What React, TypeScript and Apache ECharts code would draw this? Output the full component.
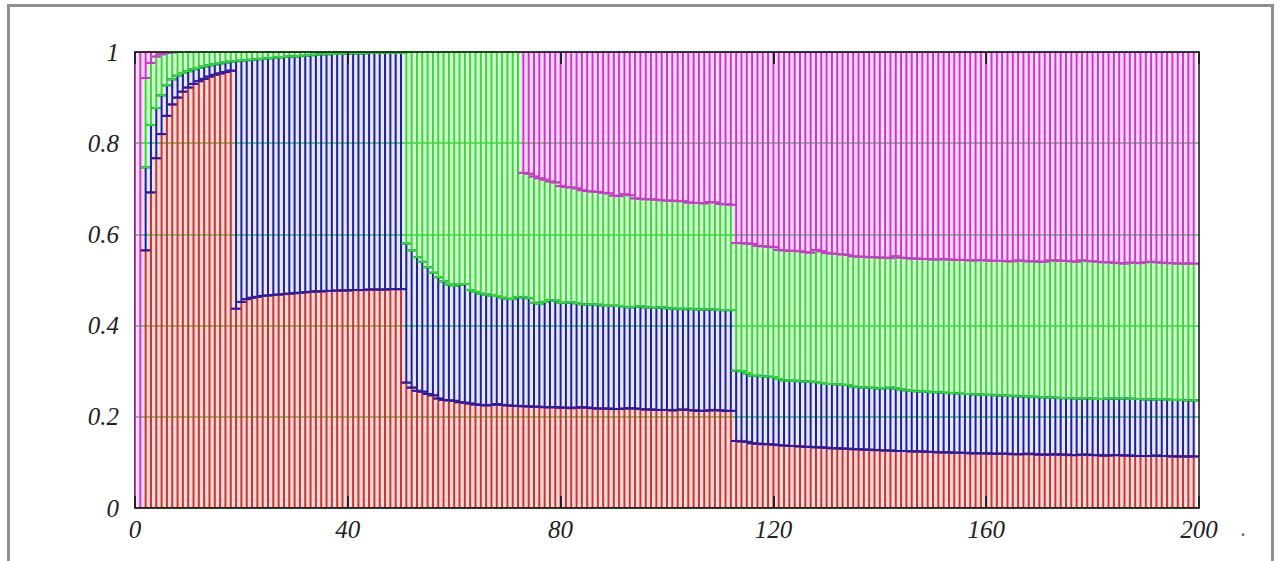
import React, { useEffect, useRef } from "react";
import * as echarts from "echarts";

// time steps 0..199
const steps: number[] = Array.from({ length: 200 }, (_, i) => i);

// cumulative boundary: top of red
const redTop: number[] = [
  0, 0, 0.565, 0.692, 0.767, 0.82, 0.86, 0.885, 0.9, 0.913,
  0.922, 0.93, 0.936, 0.941, 0.946, 0.95, 0.953, 0.956, 0.959, 0.437,
  0.452, 0.458, 0.461, 0.463, 0.465, 0.466, 0.467, 0.468, 0.469, 0.47,
  0.471, 0.472, 0.473, 0.474, 0.475, 0.475, 0.476, 0.476, 0.477, 0.477,
  0.477, 0.478, 0.478, 0.478, 0.479, 0.479, 0.479, 0.479, 0.48, 0.48,
  0.48, 0.275, 0.264, 0.257, 0.255, 0.25, 0.247, 0.24, 0.237, 0.236,
  0.235, 0.232, 0.231, 0.229, 0.227, 0.226, 0.225, 0.226, 0.228, 0.226,
  0.225, 0.224, 0.224, 0.223, 0.223, 0.222, 0.222, 0.221, 0.221, 0.221,
  0.22, 0.22, 0.219, 0.22, 0.221, 0.22, 0.219, 0.218, 0.218, 0.218,
  0.217, 0.217, 0.218, 0.219, 0.218, 0.217, 0.216, 0.216, 0.215, 0.215,
  0.215, 0.214, 0.215, 0.216, 0.215, 0.214, 0.213, 0.213, 0.214, 0.215,
  0.214, 0.213, 0.213, 0.147, 0.146, 0.145, 0.142, 0.141, 0.14, 0.14,
  0.139, 0.138, 0.137, 0.136, 0.136, 0.135, 0.134, 0.134, 0.133, 0.133,
  0.132, 0.131, 0.131, 0.13, 0.13, 0.129, 0.129, 0.128, 0.128, 0.127,
  0.127, 0.126, 0.126, 0.125, 0.125, 0.125, 0.124, 0.124, 0.124, 0.123,
  0.123, 0.122, 0.122, 0.122, 0.121, 0.121, 0.121, 0.12, 0.12, 0.12,
  0.12, 0.119, 0.119, 0.119, 0.119, 0.118, 0.118, 0.118, 0.119, 0.118,
  0.117, 0.117, 0.117, 0.118, 0.117, 0.117, 0.116, 0.116, 0.117, 0.117,
  0.116, 0.116, 0.115, 0.115, 0.116, 0.116, 0.115, 0.115, 0.114, 0.114,
  0.114, 0.114, 0.115, 0.114, 0.114, 0.113, 0.113, 0.113, 0.113, 0.113,
];

// cumulative boundary: top of blue
const blueTop: number[] = [
  0, 0, 0.747, 0.84, 0.877, 0.905, 0.927, 0.94, 0.948, 0.954,
  0.958, 0.962, 0.965, 0.968, 0.971, 0.973, 0.975, 0.977, 0.979, 0.98,
  0.981, 0.982, 0.983, 0.984, 0.985, 0.986, 0.987, 0.988, 0.989, 0.99,
  0.99, 0.991, 0.992, 0.993, 0.994, 0.995, 0.995, 0.996, 0.996, 0.996,
  0.997, 0.997, 0.997, 0.997, 0.998, 0.998, 0.998, 0.998, 0.998, 0.998,
  0.998, 0.58, 0.565, 0.55, 0.54, 0.528, 0.516, 0.506, 0.497, 0.49,
  0.487, 0.49, 0.491, 0.478, 0.474, 0.47, 0.468, 0.466, 0.465, 0.461,
  0.459, 0.458, 0.462, 0.462, 0.46, 0.45, 0.448, 0.452, 0.456, 0.455,
  0.45, 0.45, 0.451, 0.449, 0.447, 0.446, 0.447, 0.446, 0.444, 0.443,
  0.444, 0.443, 0.441, 0.44, 0.441, 0.442, 0.44, 0.439, 0.439, 0.44,
  0.438, 0.437, 0.437, 0.436, 0.437, 0.436, 0.435, 0.435, 0.436, 0.435,
  0.434, 0.434, 0.434, 0.301, 0.3, 0.295, 0.29, 0.29, 0.289, 0.288,
  0.287, 0.283, 0.28, 0.279, 0.279, 0.278, 0.277, 0.277, 0.276, 0.274,
  0.272, 0.272, 0.271, 0.27, 0.27, 0.266, 0.265, 0.264, 0.264, 0.263,
  0.262, 0.263, 0.264, 0.262, 0.26, 0.258, 0.257, 0.256, 0.255, 0.255,
  0.254, 0.254, 0.253, 0.252, 0.252, 0.251, 0.25, 0.25, 0.249, 0.249,
  0.248, 0.248, 0.247, 0.247, 0.246, 0.246, 0.245, 0.245, 0.244, 0.244,
  0.243, 0.243, 0.242, 0.242, 0.241, 0.241, 0.241, 0.24, 0.24, 0.241,
  0.24, 0.239, 0.239, 0.24, 0.24, 0.24, 0.241, 0.24, 0.239, 0.239,
  0.238, 0.238, 0.238, 0.239, 0.238, 0.237, 0.237, 0.237, 0.236, 0.236,
];

// cumulative boundary: top of green (magenta fills the rest up to 1)
const greenTop: number[] = [
  0, 0, 0.943, 0.976, 0.99, 0.995, 0.998, 0.999, 1, 1,
  1, 1, 1, 1, 1, 1, 1, 1, 1, 1,
  1, 1, 1, 1, 1, 1, 1, 1, 1, 1,
  1, 1, 1, 1, 1, 1, 1, 1, 1, 1,
  1, 1, 1, 1, 1, 1, 1, 1, 1, 1,
  1, 1, 1, 1, 1, 1, 1, 1, 1, 1,
  1, 1, 1, 1, 1, 1, 1, 1, 1, 1,
  1, 1, 1, 0.735, 0.733, 0.727, 0.723, 0.72, 0.716, 0.714,
  0.706, 0.704, 0.703, 0.701, 0.697, 0.695, 0.694, 0.693, 0.691, 0.69,
  0.685, 0.684, 0.688, 0.686, 0.679, 0.678, 0.677, 0.677, 0.676, 0.675,
  0.674, 0.674, 0.673, 0.673, 0.67, 0.669, 0.669, 0.668, 0.671, 0.67,
  0.667, 0.666, 0.665, 0.581, 0.581, 0.58, 0.579, 0.575, 0.574, 0.573,
  0.572, 0.566, 0.565, 0.564, 0.564, 0.563, 0.561, 0.56, 0.566, 0.563,
  0.559, 0.558, 0.557, 0.556, 0.555, 0.552, 0.551, 0.551, 0.55, 0.55,
  0.549, 0.549, 0.548, 0.552, 0.549, 0.548, 0.547, 0.547, 0.546, 0.546,
  0.545, 0.545, 0.546, 0.545, 0.544, 0.544, 0.544, 0.543, 0.543, 0.544,
  0.543, 0.542, 0.542, 0.542, 0.541, 0.541, 0.543, 0.542, 0.541, 0.541,
  0.54, 0.54, 0.543, 0.543, 0.542, 0.542, 0.541, 0.54, 0.543, 0.542,
  0.541, 0.54, 0.539, 0.539, 0.538, 0.537, 0.536, 0.538, 0.538, 0.537,
  0.539, 0.54, 0.539, 0.538, 0.537, 0.537, 0.536, 0.536, 0.536, 0.536,
];

const xTicks = [0, 40, 80, 120, 160, 200];
const yTicks = [0, 0.2, 0.4, 0.6, 0.8, 1];

const LINE_COLORS = ["#d2302a", "#1c1cb0", "#2ee02e", "#dc2adc"];
const TINTS = [
  "rgba(235,110,110,0.24)",
  "rgba(120,120,220,0.16)",
  "rgba(120,235,120,0.28)",
  "rgba(235,120,235,0.24)",
];

export default function App() {
  const ref = useRef<HTMLDivElement>(null);

  useEffect(() => {
    document.body.style.margin = "0";
    const chart = echarts.init(ref.current!, null, { renderer: "svg" });
    const data = steps.map((s, i) => [s, redTop[i], blueTop[i], greenTop[i]]);

    const labelStyle = {
      fontFamily: "Liberation Serif",
      fontStyle: "italic" as const,
      fontSize: 25,
      color: "#222",
    };

    const tintItem = (params: any, api: any) => {
      const x = api.value(0);
      const lv = [0, api.value(1), api.value(2), api.value(3), 1];
      const w = api.size([1, 0])[0];
      const children: any[] = [];
      for (let k = 0; k < 4; k++) {
        if (lv[k + 1] - lv[k] <= 0.0005) continue;
        const p0 = api.coord([x, lv[k]]);
        const p1 = api.coord([x, lv[k + 1]]);
        children.push({
          type: "rect",
          shape: { x: p0[0] - w / 2, y: p1[1], width: w, height: p0[1] - p1[1] },
          style: { fill: TINTS[k] },
        });
      }
      return { type: "group", children };
    };

    const lineItem = (params: any, api: any) => {
      const x = api.value(0);
      const lv = [0, api.value(1), api.value(2), api.value(3), 1];
      const children: any[] = [];
      for (let k = 0; k < 4; k++) {
        if (lv[k + 1] - lv[k] <= 0.0005) continue;
        const p0 = api.coord([x, lv[k]]);
        const p1 = api.coord([x, lv[k + 1]]);
        const st = { stroke: LINE_COLORS[k], lineWidth: 2 };
        children.push({
          type: "line",
          shape: { x1: p0[0], y1: p0[1], x2: p1[0], y2: p1[1] },
          style: st,
        });
        children.push({
          type: "line",
          shape: { x1: p0[0] - 5, y1: p0[1], x2: p0[0] + 5, y2: p0[1] },
          style: st,
        });
        children.push({
          type: "line",
          shape: { x1: p1[0] - 5, y1: p1[1], x2: p1[0] + 5, y2: p1[1] },
          style: st,
        });
      }
      return { type: "group", children };
    };

    const axisLine = { show: true, onZero: false, lineStyle: { color: "#111", width: 1.5 } };
    const xTick = { show: true, inside: true, length: 12, lineStyle: { color: "#222", width: 2 } };

    chart.setOption({
      animation: false,
      backgroundColor: "#ffffff",
      grid: { left: 135, right: 84, top: 52, bottom: 53 },
      xAxis: [
        {
          type: "value",
          z: 10,
          min: xTicks[0],
          max: xTicks[xTicks.length - 1],
          interval: 40,
          position: "bottom",
          axisLine,
          axisTick: xTick,
          axisLabel: { ...labelStyle, margin: 9 },
          splitLine: { show: false },
        },
        {
          type: "value",
          z: 10,
          min: xTicks[0],
          max: xTicks[xTicks.length - 1],
          interval: 40,
          position: "top",
          axisLine,
          axisTick: xTick,
          axisLabel: { show: false },
          splitLine: { show: false },
        },
      ],
      yAxis: [
        {
          type: "value",
          min: yTicks[0],
          max: yTicks[yTicks.length - 1],
          interval: 0.2,
          position: "left",
          axisLine,
          axisTick: { show: false },
          axisLabel: { ...labelStyle, margin: 16 },
          splitLine: { show: true, lineStyle: { color: "#2ccc2c", width: 1.5 } },
        },
        {
          type: "value",
          z: 10,
          min: yTicks[0],
          max: yTicks[yTicks.length - 1],
          interval: 0.2,
          position: "right",
          axisLine,
          axisTick: { show: false },
          axisLabel: { show: false },
          splitLine: { show: false },
        },
      ],
      series: [
        {
          type: "custom",
          renderItem: tintItem,
          data,
          clip: true,
          encode: { x: 0, y: [1, 2, 3] },
          silent: true,
        },
        {
          type: "custom",
          renderItem: lineItem,
          data,
          clip: true,
          encode: { x: 0, y: [1, 2, 3] },
          silent: true,
        },
      ],
      graphic: [
        {
          type: "rect",
          shape: { x: 8.5, y: 5.5, width: 1264, height: 600 },
          style: { fill: "none", stroke: "#8f8f8f", lineWidth: 3 },
          silent: true,
        },
        {
          type: "text",
          x: 1240,
          y: 516,
          style: {
            text: ".",
            fontFamily: "Liberation Serif",
            fontSize: 24,
            fill: "#666",
          },
        },
      ],
    });
    return () => chart.dispose();
  }, []);

  return <div ref={ref} style={{ width: 1283, height: 561 }} />;
}
